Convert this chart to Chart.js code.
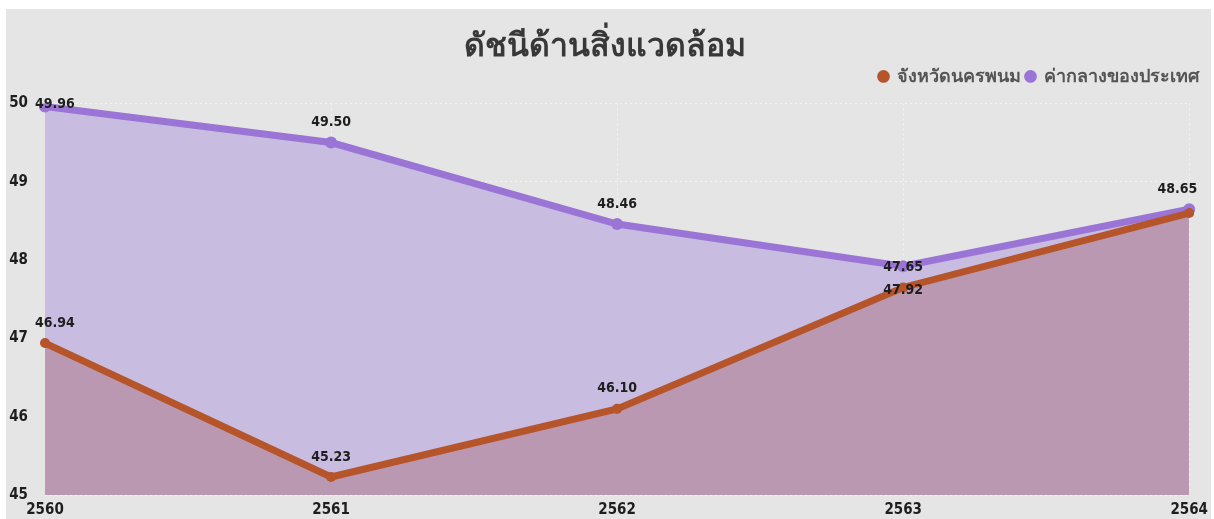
<!DOCTYPE html>
<html>
<head>
<meta charset="utf-8">
<script src="https://cdn.jsdelivr.net/npm/chart.js@4"></script>
<style>
  html, body { margin: 0; padding: 0; background: #ffffff; }
  #frame {
    position: absolute; left: 6px; top: 9px; width: 1205px; height: 510px;
    background: #e5e5e5;
  }
  #wrap { position: absolute; left: -6px; top: -9px; width: 1214px; height: 519px; }
</style>
</head>
<body>
<div id="frame"><div id="wrap"><canvas id="envchart"></canvas></div></div>
<script>
const years = ['2560', '2561', '2562', '2563', '2564'];
const nakhonPhanom = [46.94, 45.23, 46.10, 47.65, 48.60];
const national = [49.96, 49.50, 48.46, 47.92, 48.65];
const yTicks = [45, 46, 47, 48, 49, 50];

// which labels to show and where (Power BI hides/moves overlapping ones)
const orangeLabelPos = ['above', 'above', 'above', 'above', 'none'];
const purpleLabelPos = ['above', 'above', 'above', 'below', 'above'];

const tickFont = '"DejaVu Sans Condensed", "Liberation Sans Narrow", sans-serif';
const labelFont = 'bold 14px "DejaVu Sans Condensed", "Liberation Sans Narrow", sans-serif';

const valueLabels = {
    id: 'valueLabels',
    afterDatasetsDraw(chart) {
        const ctx = chart.ctx;
        ctx.save();
        ctx.font = labelFont;
        ctx.fillStyle = '#1e1e1e';
        ctx.textAlign = 'center';
        ctx.textBaseline = 'middle';
        const setups = [orangeLabelPos, purpleLabelPos];
        chart.data.datasets.forEach((ds, di) => {
            const meta = chart.getDatasetMeta(di);
            meta.data.forEach((pt, i) => {
                const where = setups[di][i];
                if (where === 'none') return;
                const txt = ds.data[i].toFixed(2);
                let x = pt.x;
                const w = ctx.measureText(txt).width;
                if (x - w / 2 < chart.chartArea.left - 10) x = chart.chartArea.left - 10 + w / 2;
                if (x + w / 2 > chart.chartArea.right + 8) x = chart.chartArea.right + 8 - w / 2;
                const y = where === 'above' ? pt.y - 20 : pt.y + 24;
                ctx.fillText(txt, x, Math.max(y, 104));
            });
        });
        ctx.restore();
    }
};

// a bit more room between legend and plot
const legendGap = {
    id: 'legendGap',
    beforeInit(chart) {
        const fit = chart.legend.fit;
        chart.legend.fit = function () {
            fit.call(this);
            this.height += 8;
        };
    }
};

const ctx = document.getElementById('envchart');
const myChart = new Chart(ctx, {
    type: 'line',
    data: {
        labels: years,
        datasets: [{
            label: 'จังหวัดนครพนม',
            data: nakhonPhanom,
            borderColor: '#b6542a',
            backgroundColor: '#bb98b1',
            pointBackgroundColor: '#b6542a',
            pointBorderWidth: 0,
            borderWidth: 7,
            pointRadius: 5,
            fill: 'origin',
            tension: 0
        },
        {
            label: 'ค่ากลางของประเทศ',
            data: national,
            borderColor: '#9a75d5',
            backgroundColor: '#c8bce0',
            pointBackgroundColor: '#9a75d5',
            pointBorderWidth: 0,
            borderWidth: 7,
            pointRadius: 6,
            fill: 'origin',
            tension: 0
        }]
    },
    options: {
        responsive: true,
        maintainAspectRatio: false,
        animation: false,
        layout: { padding: { left: 6, right: 10, top: 10, bottom: 0 } },
        scales: {
            x: {
                afterFit: s => { s.height = 24; },
                grid: { color: 'rgba(255,255,255,0.55)', drawTicks: false },
                border: { display: false, dash: [2, 3] },
                ticks: {
                    padding: 6,
                    color: '#1e1e1e',
                    font: { family: tickFont, size: 15, weight: 'bold' },
                    maxRotation: 0
                }
            },
            y: {
                min: 45,
                max: 50,
                afterBuildTicks: s => { s.ticks = yTicks.map(v => ({ value: v })); },
                afterFit: s => { s.width = 39; s.paddingBottom = 0; s.paddingTop = 0; },
                grid: { color: 'rgba(255,255,255,0.6)', drawTicks: false },
                border: { display: false, dash: [2, 3] },
                ticks: {
                    padding: 17,
                    color: '#1e1e1e',
                    font: { family: tickFont, size: 15, weight: 'bold' }
                }
            }
        },
        plugins: {
            filler: { drawTime: 'beforeDatasetsDraw' },
            title: {
                display: true,
                text: 'ดัชนีด้านสิ่งแวดล้อม',
                color: '#383838',
                font: { family: '"Noto Sans", "DejaVu Sans", sans-serif', size: 32, weight: 'bold' },
                padding: { top: 18, bottom: -4 }
            },
            legend: {
                display: true,
                align: 'end',
                labels: {
                    usePointStyle: true,
                    pointStyle: 'circle',
                    boxWidth: 9,
                    boxHeight: 9,
                    padding: 5,
                    color: '#555555',
                    font: { family: '"Noto Sans", "DejaVu Sans", sans-serif', size: 18, weight: 'bold' },
                    generateLabels: chart => Chart.defaults.plugins.legend.labels.generateLabels(chart)
                        .map(item => Object.assign(item, { lineWidth: 0 }))
                }
            },
            tooltip: { enabled: false }
        }
    },
    plugins: [valueLabels, legendGap]
});
</script>
</body>
</html>
